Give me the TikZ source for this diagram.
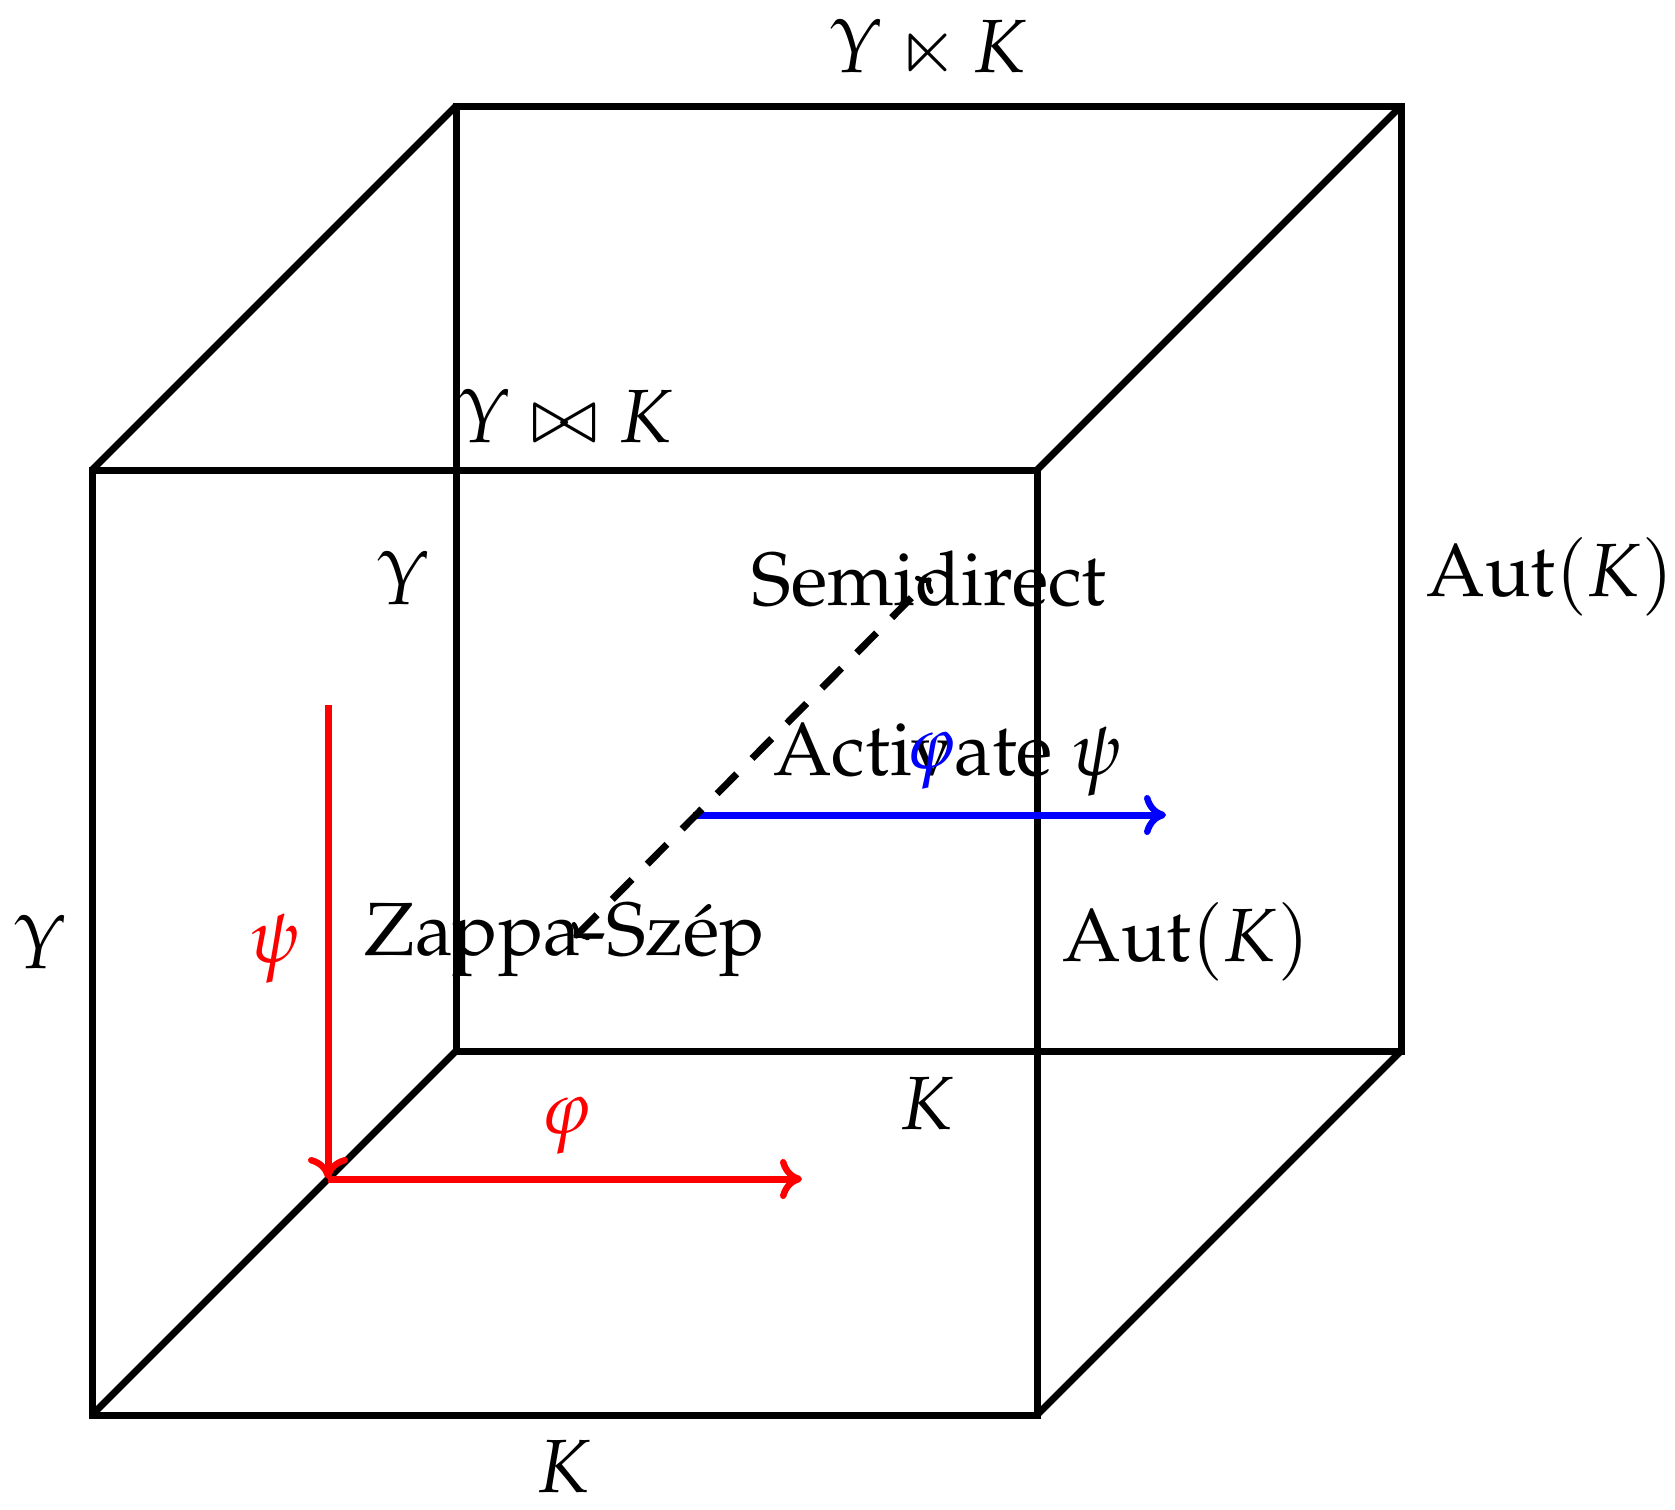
\documentclass[tikz,border=0pt]{standalone}
\usepackage[T1]{fontenc}
\usepackage{amssymb}
\usepackage[slantedGreek]{mathpazo}
\usetikzlibrary{arrows.meta}
\tikzset{
  edge/.style={line width=1.75pt, line join=miter},
  lbl/.style={font=\fontsize{18.85}{22}\selectfont, inner sep=0pt, anchor=base},
  tip/.style={-{Computer Modern Rightarrow[length=5.5pt, width=10pt, line width=1.6pt]}},
  redarrow/.style={line width=1.75pt, red, tip},
  bluearrow/.style={line width=1.75pt, blue, tip},
  dasharrow/.style={line width=1.75pt, dash pattern=on 7pt off 5.4pt,
    {Computer Modern Rightarrow[length=3pt, width=6pt, line width=1.2pt]}-{Computer Modern Rightarrow[length=3pt, width=6pt, line width=1.2pt]}}
}
\begin{document}
\begin{tikzpicture}[x=0.25pt, y=-0.25pt]
\useasboundingbox (0,0) rectangle (1675,1510);
% cube corners
\coordinate (f1) at (92,470);
\coordinate (f2) at (1037,470);
\coordinate (f3) at (1037,1415);
\coordinate (f4) at (92,1415);
\coordinate (b1) at (456,106);
\coordinate (b2) at (1401,106);
\coordinate (b3) at (1401,1051);
\coordinate (b4) at (456,1051);
\draw[edge] (f1) -- (f2) -- (f3) -- (f4) -- cycle;
\draw[edge] (b1) -- (b2) -- (b3) -- (b4) -- cycle;
\draw[edge] (f1) -- (b1);
\draw[edge] (f2) -- (b2);
\draw[edge] (f3) -- (b3);
\draw[edge] (f4) -- (b4);
% labels
\node[lbl] (ltop) at (929,72) {$\Upsilon \ltimes K$};
\node[lbl] (lbow) at (566,442) {$\Upsilon \bowtie K$};
\node[lbl] (lY1) at (404,604) {$\Upsilon$};
\node[lbl] (lsemi) at (929,605) {Semidirect};
\node[lbl] (lautr) at (1550,596) {$\mathrm{Aut}(K)$};
\node[lbl] (lact) at (948,775) {Activate $\psi$};
\node[lbl, text=blue] (lphib) at (931,768) {$\varphi$};
\node[lbl] (lzs) at (565,955) {Zappa-Sz\'{e}p};
\node[lbl] (lY2) at (41,968) {$\Upsilon$};
\node[lbl, text=red] (lpsi) at (275,962) {$\psi$};
\node[lbl, text=red] (lphir) at (566,1133) {$\varphi$};
\node[lbl] (lK1) at (927,1129) {$K$};
\node[lbl] (lautf) at (1186,961) {$\mathrm{Aut}(K)$};
\node[lbl] (lK2) at (564,1492) {$K$};
% arrows
\coordinate (ra) at (328,705);
\coordinate (rb) at (328,1179);
\coordinate (rc) at (802,1179);
\draw[redarrow] (ra) -- (rb);
\draw[redarrow] (rb) -- (rc);
\coordinate (ba) at (693,815);
\coordinate (bb) at (1166,815);
\draw[bluearrow] (ba) -- (bb);
\coordinate (da) at (574,938);
\coordinate (db) at (931,578);
\draw[dasharrow] (da) -- (db);
\end{tikzpicture}
\end{document}
